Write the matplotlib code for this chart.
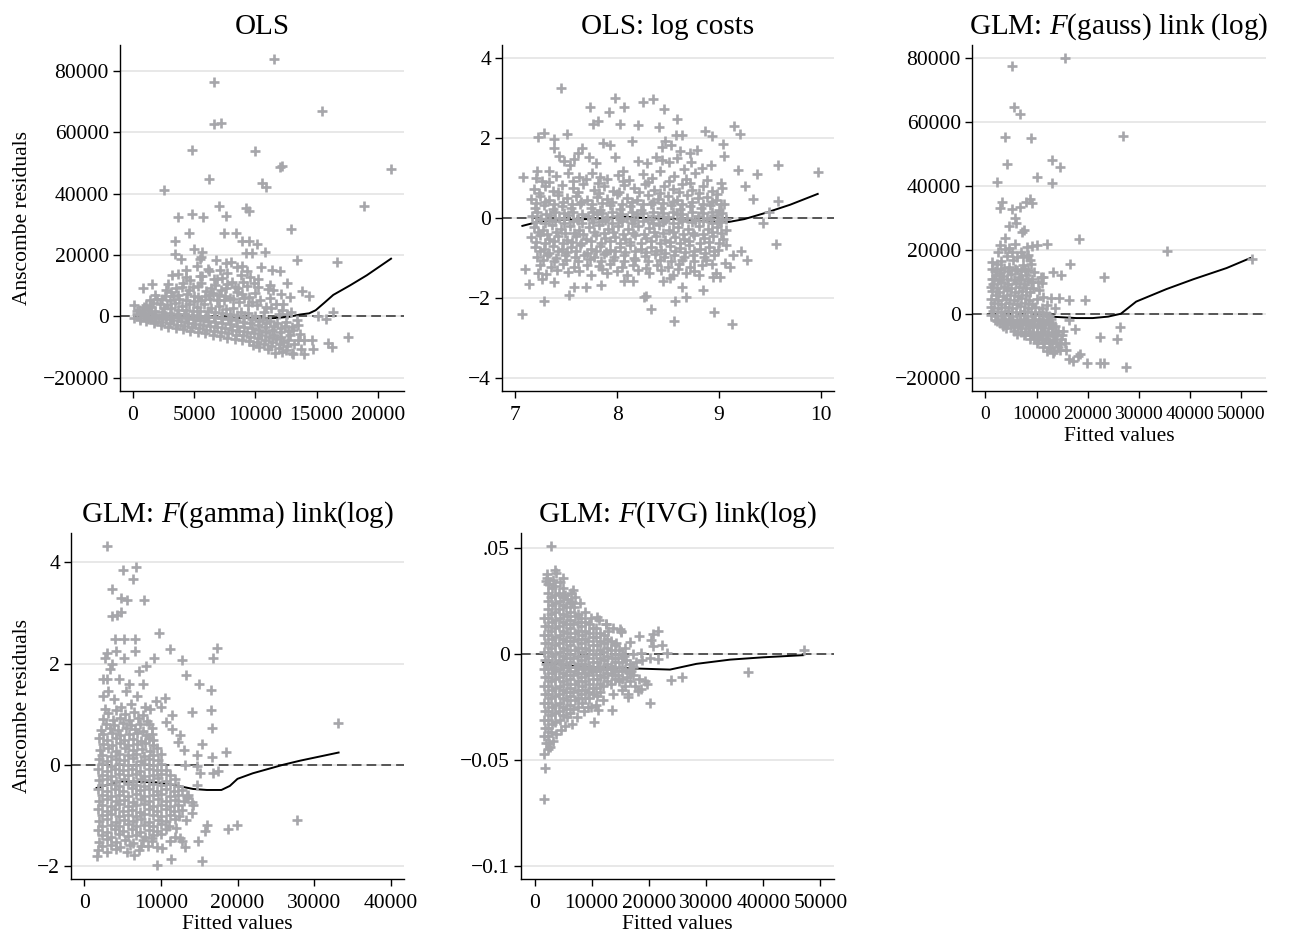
import numpy as np
import matplotlib.pyplot as plt

plt.rcParams['font.family'] = 'Liberation Serif'
plt.rcParams['mathtext.fontset'] = 'custom'
plt.rcParams['mathtext.rm'] = 'Liberation Serif'
plt.rcParams['mathtext.it'] = 'Liberation Serif:italic'

GREY = '#a6a6aa'

# ---- OLS: residual points (fitted, residual)
ols_pts = [
    (11500, 84000), (6630, 76200), (6630, 62600), (7230, 63000), (15470, 66900), (4860, 54100),
    (9960, 53800), (12000, 48700), (12150, 49000), (21100, 48100), (6190, 44700), (10560, 43500),
    (10860, 42200), (2510, 41100), (18880, 36000), (7010, 36000), (9220, 35400), (9500, 34200),
    (3680, 32300), (4830, 33400), (5730, 32300), (7640, 32600), (12900, 28600), (4580, 27200),
    (7420, 27200), (8400, 27300), (3460, 24600), (8920, 24600), (9500, 24600), (10150, 23500),
    (4990, 21900), (5670, 21000), (3460, 20400), (3960, 18800), (5460, 18800), (5590, 19400),
    (9220, 20800), (9740, 20800), (10780, 21000), (13420, 18500), (16700, 17700), (7640, 17500),
    (8540, 16100), (8920, 16400), (10500, 16100), (11400, 15000), (12000, 14800), (4310, 15000),
    (6190, 14800), (3190, 13400), (3680, 13900), (5650, 13000), (10230, 12300), (12550, 10900),
    (11190, 10300), (1560, 10500), (820, 9400), (4010, 9600), (13780, 8200), (14380, 6600),
    (12820, 6300), (11460, 8500), (12280, 4100), (16370, 1400), (15140, 0), (15770, -800),
    (17540, -6700), (15960, -8700), (16230, -10000), (14730, -10500), (13970, -12200), (13100, -12200),
    (14600, -7800), (13640, -5700), (13500, -7800), (13970, -7800), (13450, -2900), (12960, -3500),
    (100, 3600), (300, 1800),
    (100, -600), (600, -1200), (1100, -1600), (1700, -2200), (2300, -2700), (2900, -3300),
    (3500, -3700), (4100, -4200), (4700, -4800), (5300, -5200), (5900, -5500), (6500, -6000),
    (7100, -6400), (7700, -6900), (8300, -7300), (8900, -7700), (9500, -8100), (10100, -8500),
    (10700, -9100), (11300, -9600), (11900, -10200), (12500, -11000), (13000, -11800),
    (300, 800), (900, 300), (1500, -200), (2100, -600), (2700, -900), (3300, -1300), (3900, -1600),
    (4500, -2000), (5100, -2400), (5700, -2700), (6300, -3100), (6900, -3500), (7500, -3900),
    (8100, -4300), (8700, -4700), (9300, -5000), (9900, -5500), (10500, -6200), (11100, -6800),
    (11700, -7500), (12300, -8300),
    (500, 2200), (1200, 2000), (1800, 1600), (2400, 1500), (3000, 1200), (3600, 900), (4200, 700),
    (4800, 400), (5400, 200), (6000, 0), (6600, -300), (7200, -500), (7800, -900), (8400, -1300),
    (9000, -1700), (9600, -2200), (10200, -2900), (10800, -3600), (11400, -4500), (12000, -5200),
    (2200, 4200), (2800, 3800), (3400, 4500), (4000, 3300), (4600, 3900), (5200, 3100), (5800, 4200),
    (6400, 2800), (7000, 3500), (7600, 2500), (8200, 2800), (8800, 1500), (9400, 1000), (10000, 200),
    (10600, -800), (11200, -1500), (11800, -2200), (12400, -3000),
    (1400, 5200), (2600, 6500), (3100, 8000), (3800, 5800), (4400, 7200), (4900, 9500), (5300, 6200),
    (5600, 11000), (6000, 8300), (6300, 5600), (6700, 10200), (7000, 7000), (7300, 12500), (7600, 9100),
    (7900, 5900), (8100, 11300), (8500, 7800), (8800, 13500), (9100, 6100), (9300, 9800), (9700, 4800),
    (10000, 7500), (10400, 5200), (10900, 3200), (11200, 6000), (11700, 4200), (12200, 2000),
    (12600, 800), (4100, 10800), (3300, 6500), (2000, 5600), (5000, 4900), (5900, 6800), (6900, 12300),
    (7700, 14000), (8300, 9700), (9000, 11200), (9600, 12700), (6500, 7500), (4700, 11700), (3500, 9100),
    (7400, 5200), (8700, 4600), (10200, 9700), (11000, 9000), (12100, 7200), (1100, 3800), (1800, 7100),
    (2900, 10500), (5500, 13000), (6100, 15600), (7100, 15000), (8000, 17800), (9300, 14800),
    (5200, 16400), (6800, 18500), (4300, 12800), (12900, 1500), (13400, -1200), (12800, -6000),
    (11600, -12000), (12200, -11700), (13200, -9000), (13700, -10500), (11000, -10600), (10300, -10000),
    (9800, -9400),
]
ols_fill = [
    (600, -400), (1200, -900), (1800, -1400), (2400, -1800), (3000, -2300), (3600, -2700), (4200, -3100),
    (4800, -3600), (5400, -3900), (6000, -4300), (6600, -4700), (7200, -5000), (7800, -5400),
    (8400, -5900), (9000, -6200), (9600, -6700), (10200, -7100), (10800, -7700), (11400, -8300),
    (12000, -9000), (12600, -9800),
    (700, 1400), (1300, 1000), (1900, 600), (2500, 400), (3100, 100), (3700, -300), (4300, -600),
    (4900, -1000), (5500, -1200), (6100, -1500), (6700, -1800), (7300, -2200), (7900, -2600),
    (8500, -3000), (9100, -3300), (9700, -3800), (10300, -4500), (10900, -5100), (11500, -5900),
    (12100, -6700), (12700, -7600),
    (900, 3100), (1500, 3000), (2500, 2700), (3100, 2600), (3700, 2200), (4300, 2100), (4900, 1900),
    (5500, 1700), (6100, 1600), (6700, 1300), (7300, 1100), (7900, 700), (8500, 300), (9100, -100),
    (9700, -700), (10300, -1400), (10900, -2200), (11500, -3000), (12100, -3800), (12700, -4600),
    (1600, 4300), (2400, 5600), (3000, 5200), (3700, 7100), (4300, 5400), (5000, 6600), (5600, 5200),
    (6200, 7100), (6900, 5200), (7500, 6800), (8200, 5600), (8900, 7400), (9500, 6300), (10100, 3800),
    (10700, 1500), (11300, 2800), (2700, 8700), (4600, 8600), (6400, 9400), (7700, 10700), (8600, 9200),
    (9900, 10800), (5300, 9900), (6600, 12100), (7200, 8500), (9400, 3800), (11900, 900), (12500, -1800),
    (13100, -4500),
    (1000, 100), (1700, -100), (2400, 0), (3100, -200), (3800, -100), (4500, -300), (5200, -200),
    (5900, -400), (6600, -300), (7300, -500), (8000, -400),
]
ols_fit_x = [100, 3000, 6000, 8600, 9800, 10900, 11800, 12800, 13640, 14400, 14930, 15600, 16370,
             17740, 19100, 21090]
ols_fit_y = [200, 0, -200, -500, -600, -700, -500, -100, 600, 1000, 2000, 4300, 7000, 10100, 13370, 18800]

# ---- OLS on log costs
logc_pts = [
    (7.445, 3.24), (7.98, 2.99), (8.25, 2.89), (8.35, 2.97), (7.73, 2.77), (8.07, 2.77), (8.46, 2.72),
    (7.92, 2.64), (8.59, 2.48), (7.76, 2.35), (7.81, 2.43), (8.21, 2.33), (8.03, 2.35), (8.41, 2.27),
    (9.15, 2.31), (9.21, 2.10), (7.28, 2.13), (7.22, 2.02), (7.38, 1.98), (7.51, 2.10), (8.86, 2.18),
    (8.93, 2.05), (8.58, 2.08), (8.64, 2.08), (9.04, 1.85), (9.05, 1.56), (7.08, 1.02), (7.20, 0.99),
    (9.58, 1.33), (9.97, 1.16), (9.37, 1.09), (9.19, 1.20), (9.26, 0.81), (9.33, 0.48), (9.58, 0.43),
    (9.49, 0.14), (9.43, -0.12), (9.56, -0.66), (9.28, -1.05), (9.22, -0.82), (9.14, -0.94),
    (9.06, -1.13), (9.11, -1.22), (7.10, -1.28), (7.14, -1.66), (7.22, -1.38), (7.26, -1.53),
    (7.28, -2.07), (7.07, -2.41), (7.38, -1.60), (7.53, -1.93), (7.58, -1.72), (7.69, -1.72),
    (7.84, -1.69), (8.26, -1.99), (8.28, -1.95), (8.33, -2.28), (8.57, -2.09), (8.56, -2.59),
    (8.68, -1.97), (8.64, -1.72), (8.84, -1.80), (8.95, -2.36), (9.13, -2.65), (8.94, -1.47),
    (9.01, -1.47), (8.07, -1.58), (8.16, -1.59), (8.45, -1.58), (8.52, -1.51),
    (7.38, 1.76), (7.62, 1.62), (7.66, 1.75), (7.86, 1.88), (7.93, 1.83), (8.15, 1.92), (8.44, 1.78),
    (8.47, 1.92), (8.53, 1.82), (8.62, 1.68), (8.72, 1.62), (8.78, 1.70), (7.43, 1.55),
    (7.21, 1.18), (7.33, 1.17), (7.48, 1.43), (7.54, 1.33), (7.58, 1.47), (7.72, 1.52), (7.79, 1.38),
    (7.98, 1.52), (8.06, 1.18), (8.21, 1.43), (8.29, 1.38), (8.38, 1.53), (8.44, 1.45), (8.51, 1.39),
    (8.59, 1.51), (8.66, 1.22), (8.73, 1.40), (8.83, 1.25), (8.92, 1.33), (7.83, 1.02), (7.69, 0.98),
    (7.26, 0.93), (7.40, 1.05), (7.52, 1.12), (7.63, 1.02), (7.75, 1.13), (7.90, 0.98), (8.01, 1.07),
    (8.12, 0.96), (8.25, 1.10), (8.34, 1.00), (8.42, 1.18), (8.56, 1.06), (8.68, 0.97), (8.77, 1.12),
    (8.88, 0.95), (9.02, 0.88),
    (7.18, 0.72), (7.29, 0.80), (7.37, 0.68), (7.46, 0.82), (7.57, 0.74), (7.67, 0.86), (7.77, 0.70),
    (7.87, 0.80), (7.96, 0.68), (8.07, 0.83), (8.17, 0.75), (8.27, 0.84), (8.36, 0.70), (8.46, 0.80),
    (8.55, 0.73), (8.64, 0.85), (8.74, 0.71), (8.84, 0.79), (8.93, 0.67), (9.03, 0.75),
    (7.15, 0.47), (7.24, 0.55), (7.33, 0.45), (7.42, 0.58), (7.51, 0.49), (7.60, 0.56), (7.70, 0.44),
    (7.80, 0.53), (7.90, 0.47), (8.00, 0.59), (8.10, 0.50), (8.20, 0.45), (8.30, 0.57), (8.40, 0.48),
    (8.50, 0.55), (8.59, 0.46), (8.69, 0.58), (8.79, 0.49), (8.88, 0.53), (8.97, 0.44), (9.05, 0.36),
    (7.19, 0.25), (7.28, 0.33), (7.37, 0.22), (7.46, 0.31), (7.55, 0.24), (7.64, 0.35), (7.74, 0.26),
    (7.83, 0.20), (7.93, 0.32), (8.03, 0.23), (8.13, 0.30), (8.23, 0.21), (8.33, 0.34), (8.43, 0.25),
    (8.53, 0.32), (8.62, 0.22), (8.72, 0.29), (8.82, 0.24), (8.91, 0.33), (9.00, 0.21),
    (7.16, 0.05), (7.25, -0.02), (7.34, 0.08), (7.43, 0.00), (7.52, 0.07), (7.61, -0.03), (7.71, 0.04),
    (7.80, 0.10), (7.90, -0.01), (8.00, 0.06), (8.10, 0.00), (8.20, 0.09), (8.30, -0.02), (8.40, 0.05),
    (8.50, 0.02), (8.59, 0.10), (8.69, -0.01), (8.79, 0.06), (8.88, 0.00), (8.98, 0.07), (9.07, -0.03),
    (7.18, -0.22), (7.27, -0.30), (7.36, -0.19), (7.45, -0.27), (7.54, -0.21), (7.63, -0.30),
    (7.72, -0.24), (7.82, -0.18), (7.91, -0.28), (8.01, -0.21), (8.11, -0.29), (8.21, -0.20),
    (8.31, -0.26), (8.41, -0.19), (8.51, -0.30), (8.60, -0.23), (8.70, -0.28), (8.80, -0.20),
    (8.89, -0.27), (8.98, -0.22), (9.07, -0.30),
    (7.15, -0.48), (7.24, -0.44), (7.33, -0.53), (7.42, -0.46), (7.51, -0.55), (7.60, -0.45),
    (7.69, -0.52), (7.79, -0.43), (7.88, -0.50), (7.98, -0.47), (8.08, -0.54), (8.18, -0.44),
    (8.28, -0.51), (8.38, -0.46), (8.47, -0.55), (8.57, -0.47), (8.66, -0.52), (8.76, -0.43),
    (8.85, -0.50), (8.94, -0.46), (9.04, -0.53),
    (7.19, -0.72), (7.28, -0.78), (7.37, -0.70), (7.46, -0.79), (7.55, -0.73), (7.64, -0.68),
    (7.74, -0.77), (7.83, -0.71), (7.93, -0.80), (8.03, -0.73), (8.13, -0.69), (8.23, -0.78),
    (8.33, -0.72), (8.43, -0.80), (8.52, -0.70), (8.62, -0.76), (8.71, -0.69), (8.81, -0.78),
    (8.90, -0.72), (8.99, -0.80), (9.07, -0.68),
    (7.21, -0.97), (7.31, -0.93), (7.40, -1.00), (7.49, -0.92), (7.59, -0.98), (7.68, -0.94),
    (7.77, -0.99), (7.87, -0.91), (7.97, -0.97), (8.07, -0.93), (8.17, -1.00), (8.27, -0.95),
    (8.37, -0.91), (8.46, -0.98), (8.56, -0.93), (8.66, -0.99), (8.75, -0.92), (8.85, -0.97),
    (8.95, -0.94),
    (7.24, -1.18), (7.35, -1.22), (7.47, -1.16), (7.58, -1.24), (7.70, -1.17), (7.82, -1.21),
    (7.93, -1.15), (8.05, -1.23), (8.16, -1.18), (8.28, -1.25), (8.39, -1.17), (8.50, -1.22),
    (8.61, -1.16), (8.72, -1.24), (8.83, -1.19), (8.93, -1.15),
    (7.30, -1.40), (7.52, -1.36), (7.74, -1.43), (7.90, -1.38), (8.10, -1.42), (8.31, -1.37),
    (8.55, -1.44), (8.68, -1.38), (8.80, -1.42), (8.97, -1.37),
]
logc_fill = [
    (7.33, 0.90), (7.57, 0.93), (7.81, 0.88), (8.06, 0.92), (8.30, 0.89), (8.51, 0.93), (8.72, 0.88),
    (7.23, 0.62), (7.42, 0.65), (7.62, 0.64), (7.82, 0.63), (8.02, 0.64), (8.22, 0.65), (8.42, 0.63),
    (8.61, 0.64), (8.80, 0.63), (8.98, 0.60),
    (7.20, 0.37), (7.29, 0.40), (7.38, 0.35), (7.47, 0.39), (7.56, 0.36), (7.65, 0.41), (7.75, 0.35),
    (7.85, 0.38), (7.95, 0.40), (8.05, 0.36), (8.15, 0.39), (8.25, 0.35), (8.35, 0.41), (8.45, 0.37),
    (8.55, 0.39), (8.64, 0.35), (8.74, 0.40), (8.84, 0.36), (8.93, 0.39), (9.02, 0.35),
    (7.21, 0.14), (7.30, 0.11), (7.39, 0.16), (7.48, 0.12), (7.57, 0.15), (7.66, 0.11), (7.76, 0.16),
    (7.85, 0.13), (7.95, 0.15), (8.05, 0.11), (8.15, 0.16), (8.25, 0.12), (8.35, 0.15), (8.45, 0.13),
    (8.55, 0.16), (8.64, 0.11), (8.74, 0.14), (8.84, 0.12), (8.93, 0.16), (9.03, 0.13),
    (7.20, -0.10), (7.29, -0.13), (7.39, -0.08), (7.48, -0.12), (7.57, -0.09), (7.66, -0.14),
    (7.76, -0.10), (7.85, -0.07), (7.95, -0.12), (8.05, -0.09), (8.15, -0.13), (8.25, -0.08),
    (8.35, -0.12), (8.45, -0.10), (8.55, -0.14), (8.64, -0.09), (8.74, -0.11), (8.84, -0.08),
    (8.93, -0.13), (9.02, -0.10),
    (7.22, -0.36), (7.31, -0.40), (7.40, -0.35), (7.49, -0.39), (7.58, -0.37), (7.67, -0.41),
    (7.77, -0.35), (7.87, -0.39), (7.96, -0.36), (8.06, -0.40), (8.16, -0.37), (8.26, -0.41),
    (8.36, -0.35), (8.45, -0.39), (8.55, -0.36), (8.65, -0.40), (8.75, -0.37), (8.84, -0.41),
    (8.93, -0.35), (9.02, -0.39),
    (7.20, -0.60), (7.29, -0.63), (7.38, -0.58), (7.47, -0.62), (7.56, -0.60), (7.65, -0.64),
    (7.74, -0.59), (7.84, -0.62), (7.93, -0.58), (8.03, -0.63), (8.13, -0.60), (8.23, -0.64),
    (8.33, -0.59), (8.42, -0.62), (8.52, -0.60), (8.62, -0.63), (8.71, -0.58), (8.81, -0.62),
    (8.90, -0.60), (9.00, -0.64),
    (7.24, -0.84), (7.33, -0.87), (7.42, -0.82), (7.51, -0.86), (7.60, -0.83), (7.70, -0.87),
    (7.79, -0.82), (7.89, -0.85), (7.98, -0.83), (8.08, -0.86), (8.18, -0.82), (8.28, -0.86),
    (8.38, -0.84), (8.47, -0.87), (8.57, -0.82), (8.67, -0.85), (8.76, -0.83), (8.86, -0.87),
    (8.95, -0.83),
    (7.27, -1.06), (7.38, -1.09), (7.50, -1.05), (7.62, -1.08), (7.73, -1.04), (7.84, -1.09),
    (7.96, -1.06), (8.07, -1.08), (8.18, -1.05), (8.30, -1.09), (8.42, -1.06), (8.53, -1.08),
    (8.64, -1.05), (8.76, -1.09), (8.87, -1.06),
    (7.41, -1.30), (7.63, -1.32), (7.85, -1.29), (8.00, -1.32), (8.21, -1.30), (8.43, -1.31),
    (8.60, -1.29), (8.76, -1.32),
    (7.24, -0.04), (7.33, -0.06), (7.48, -0.03), (7.62, -0.05), (7.75, -0.02), (7.88, -0.06),
    (8.03, -0.03), (8.17, -0.05), (8.33, -0.04), (8.47, -0.06), (8.62, -0.03), (8.77, -0.05),
    (8.91, -0.04), (9.00, -0.07),
]
logc_fit_x = [7.07, 7.25, 7.5, 7.8, 8.05, 8.35, 8.65, 8.9, 9.1, 9.25, 9.45, 9.7, 9.97]
logc_fit_y = [-0.2, -0.08, -0.05, -0.02, 0.03, -0.01, -0.03, -0.09, -0.1, -0.03, 0.12, 0.33, 0.6]

# ---- GLM gaussian family, log link
gauss_pts = [
    (15540, 80000), (5220, 77600), (5550, 64800), (6850, 62500), (3790, 55200), (8940, 54900),
    (26830, 55700), (4240, 46800), (12990, 48100), (14560, 46000), (10120, 42900), (13120, 40800),
    (2280, 41150), (2810, 33000), (3330, 34800), (5220, 32900), (6720, 33500), (8030, 35100),
    (8680, 36000), (9140, 34600), (5870, 29900), (6070, 28300), (4570, 27300), (7510, 26250),
    (7180, 25700), (3790, 23650), (2810, 21560), (4570, 20500), (5220, 19200), (8160, 21000),
    (9140, 21250), (10120, 21350), (12140, 21900), (18280, 23300), (35570, 19500), (52220, 17200),
    (8160, 17900), (8680, 16900), (1310, 16150), (16510, 15500), (13250, 13000), (14880, 12000),
    (10970, 11500), (11160, 9600), (23170, 11500), (12920, 4900), (14360, 4900), (16320, 4400),
    (19450, 4400), (13580, 1800), (16320, -2100), (17490, -4800), (26300, -4000), (15210, -5500),
    (22390, -7400), (25780, -7900), (15670, -9000), (18600, -12500), (16320, -14200), (17170, -14700),
    (19970, -15400), (22390, -15400), (23240, -15400), (27420, -16500), (18150, -13300),
    (14560, -11250), (15860, -11250), (13250, -12300),
    (2000, 12200), (3500, 11800), (5000, 12400), (6500, 11600), (8000, 12100),
    (1500, 9300), (3000, 9800), (4500, 9200), (6000, 9700), (7500, 9400), (9000, 9900),
    (1200, 7200), (2700, 6800), (4200, 7300), (5700, 6900), (7200, 7100), (8700, 6700),
    (1100, 4700), (2500, 4300), (4000, 4600), (5500, 4400), (7000, 4800), (8500, 4200), (10000, 4500),
    (1000, 2100), (2400, 1800), (3800, 2200), (5300, 1900), (6800, 2300), (8300, 1700), (9800, 2000),
    (11000, 1800),
    (1000, -300), (2300, -700), (3700, -400), (5200, -600), (6700, -300), (8200, -700), (9700, -500),
    (11200, -400), (12500, -800),
    (2800, -2800), (4200, -3200), (5700, -2900), (7200, -3100), (8700, -2800), (10200, -3300),
    (11700, -2900), (13000, -3200),
    (5500, -5300), (7000, -5700), (8500, -5400), (10000, -5600), (11500, -5300), (13000, -5800),
    (14200, -5500),
    (8800, -7800), (10300, -8200), (11800, -7900), (13300, -8300), (14800, -8000),
    (11200, -10300), (12700, -10700), (14200, -10400),
    (1800, -1800), (3200, -1500), (4600, -1700), (6100, -1900), (7600, -1600), (9100, -1900),
    (10500, -1700), (12000, -2000),
    (1700, 3300), (3100, 3000), (4700, 3400), (6200, 3100), (7700, 3300), (9200, 3000),
    (2000, 5900), (3400, 5700), (4900, 5900), (6400, 5600), (7900, 5800),
    (4000, -4300), (5500, -4200), (7000, -4400), (8500, -4300), (10000, -4100), (11500, -4400),
    (13000, -4500),
    (7500, -6800), (9000, -6600), (10500, -6900), (12000, -6700), (13500, -6900),
    (10000, -9200), (11500, -9300), (13000, -9100), (14500, -9500),
    (2200, 15500), (3600, 14200), (5400, 16800), (6200, 13700), (7300, 15300), (8400, 18400),
    (9600, 13200), (4300, 18000), (6900, 19300), (3100, 16500), (5800, 21800), (9200, 10900),
    (10500, 7300), (11200, 5100), (12000, 2600), (12900, -1500), (1600, 11000), (1300, 14000),
    (2500, 19200), (4700, 14600), (7800, 13900), (8900, 15700), (3900, 20400), (6100, 17600),
    (7400, 18100), (2900, 12900), (10200, 10000), (11300, 11400),
]
gauss_fill = [
    (1300, 10800), (2700, 10600), (4200, 10900), (5600, 10500), (7000, 10800), (8400, 10400),
    (1000, 8300), (2200, 8100), (3600, 8400), (5100, 8000), (6600, 8300), (8000, 8100), (9400, 8000),
    (1500, 800), (3000, 700), (4500, 900), (6000, 600), (7500, 800), (9000, 700), (10500, 500),
    (11800, 300),
    (3500, -3700), (5000, -3600), (6400, -3800), (7900, -3600), (9400, -3700), (10900, -3800),
    (12400, -3600), (13700, -3900),
    (6200, -6200), (7800, -6100), (9300, -6300), (10800, -6100), (12300, -6300), (13800, -6200),
    (14900, -6500),
    (2200, -2400), (3900, -2300), (5300, -2400), (6800, -2200), (8200, -2400), (9600, -2300),
    (11100, -2400), (12500, -2500),
    (1800, 13300), (3000, 13900), (4500, 13400), (5700, 14100), (7000, 13300), (8300, 13600),
    (9500, -7500), (11000, -7600), (12500, -8800), (13900, -8900), (12000, -11500), (13500, -11600),
]
gauss_fit_x = [9300, 13900, 17800, 21000, 24000, 26500, 29500, 35400, 40700, 47200, 51800]
gauss_fit_y = [-300, -1000, -1350, -1350, -900, 0, 3800, 7700, 10800, 14300, 17400]

# ---- GLM gamma family, log link
gamma_pts = [
    (3000, 4.32), (6745, 3.91), (5000, 3.84), (6310, 3.67), (3655, 3.48), (4790, 3.30), (5530, 3.26),
    (7790, 3.25), (4310, 2.95), (3655, 2.93), (4790, 3.01), (9790, 2.60), (4000, 2.49), (5180, 2.49),
    (6610, 2.49), (11180, 2.29), (17360, 2.31), (12710, 2.06), (16840, 2.10), (13230, 1.77),
    (15010, 1.60), (16490, 1.47), (10530, 1.32), (16490, 1.09), (14010, 1.04), (11490, 0.99),
    (16710, 0.73), (33160, 0.82), (12490, 0.59), (15320, 0.40), (18490, 0.26), (13140, 0.00),
    (14660, 0.20), (16620, 0.16), (17490, -0.13), (16750, -0.16), (15100, -0.16), (14660, -0.03),
    (14660, -0.40), (14010, -0.73), (13360, -0.66), (15970, -1.19), (15750, -1.32), (18800, -1.27),
    (19970, -1.20), (27720, -1.09), (14880, -1.50), (9440, -1.63), (11270, -1.86), (9440, -1.99),
    (15400, -1.91), (6530, -1.79), (1700, -1.81), (13140, -1.62), (12710, -1.50), (11840, -1.42),
    (8790, -1.45),
    (1800, -1.68), (2900, -1.72), (4100, -1.66), (5600, -1.73), (7200, -1.69),
    (1900, -1.52), (3000, -1.47), (4200, -1.53), (5300, -1.49), (6400, -1.54), (7600, -1.48),
    (8800, -1.51),
    (1800, -1.29), (2900, -1.33), (4000, -1.27), (5100, -1.32), (6200, -1.28), (7300, -1.34),
    (8400, -1.29), (9500, -1.31), (10600, -1.27),
    (1900, -1.12), (3000, -1.08), (4100, -1.13), (5200, -1.09), (6300, -1.11), (7400, -1.07),
    (8500, -1.13), (9600, -1.09), (10700, -1.12), (11900, -1.08),
    (1800, -0.88), (2900, -0.92), (4000, -0.87), (5100, -0.91), (6200, -0.89), (7300, -0.93),
    (8400, -0.88), (9500, -0.92), (10600, -0.87), (11700, -0.91), (12800, -0.89),
    (1900, -0.71), (3000, -0.68), (4100, -0.72), (5200, -0.69), (6300, -0.73), (7400, -0.68),
    (8500, -0.71), (9600, -0.67), (10700, -0.72), (11900, -0.69), (13000, -0.71),
    (1800, -0.49), (2900, -0.53), (4000, -0.48), (5100, -0.52), (6200, -0.47), (7300, -0.51),
    (8400, -0.49), (9500, -0.53), (10600, -0.48), (11700, -0.52), (12800, -0.50),
    (1900, -0.31), (3000, -0.28), (4100, -0.32), (5200, -0.29), (6300, -0.33), (7400, -0.28),
    (8500, -0.31), (9600, -0.27), (10700, -0.32), (11900, -0.29),
    (1800, -0.09), (2900, -0.12), (4000, -0.08), (5100, -0.11), (6200, -0.09), (7300, -0.13),
    (8400, -0.08), (9500, -0.11), (10600, -0.10),
    (1900, 0.11), (3000, 0.08), (4100, 0.12), (5200, 0.09), (6300, 0.13), (7400, 0.08), (8500, 0.11),
    (9600, 0.09),
    (2000, 0.29), (3100, 0.33), (4200, 0.28), (5300, 0.32), (6400, 0.29), (7500, 0.31), (8600, 0.27),
    (9500, 0.32),
    (1900, 0.52), (3000, 0.48), (4100, 0.53), (5200, 0.49), (6300, 0.51), (7400, 0.47), (8500, 0.52),
    (9000, 0.49),
    (2200, 0.69), (3300, 0.72), (4400, 0.68), (5500, 0.73), (6600, 0.70), (7700, 0.67), (8800, 0.72),
    (2500, 0.91), (3700, 0.88), (4600, 0.93), (5800, 0.89), (7000, 0.92), (8200, 0.87),
    (2400, 1.35), (3100, 1.45), (3300, 1.90), (2700, 2.10), (2900, 2.20), (3900, 1.30), (4500, 1.70),
    (5200, 2.10), (5800, 1.60), (6100, 1.20), (6600, 2.25), (7100, 1.85), (7600, 1.60), (8100, 1.95),
    (8600, 1.10), (9100, 2.10), (3600, 2.00), (4200, 2.25), (5500, 1.45), (6900, 1.35), (7900, 1.15),
    (3000, 1.70), (4800, 1.15), (2500, 1.70), (9400, 1.25), (10000, 1.15), (10700, 0.85),
    (11500, 0.70), (12200, 0.45), (13000, 0.30),
    (12000, -1.25), (13300, -1.10), (14200, -0.80), (13500, -0.60), (12500, -1.45), (11200, -1.50),
    (10200, -1.65), (14000, -0.95),
]
gamma_fill = [
    (2350, -1.61), (3500, -1.58), (4650, -1.62), (6000, -1.59), (7400, -1.61), (8300, -1.60),
    (2350, -1.40), (3450, -1.42), (4550, -1.38), (5700, -1.41), (6800, -1.39), (7900, -1.42),
    (9000, -1.40), (10000, -1.38),
    (2350, -1.21), (3450, -1.19), (4550, -1.22), (5650, -1.18), (6750, -1.21), (7850, -1.19),
    (8950, -1.22), (10050, -1.18), (11100, -1.21),
    (2350, -1.00), (3450, -0.98), (4550, -1.01), (5650, -0.99), (6750, -1.02), (7850, -0.98),
    (8950, -1.00), (10050, -1.02), (11150, -0.99), (12300, -1.01),
    (2350, -0.79), (3450, -0.81), (4550, -0.78), (5650, -0.82), (6750, -0.80), (7850, -0.78),
    (8950, -0.81), (10050, -0.79), (11150, -0.82), (12250, -0.80),
    (2350, -0.60), (3450, -0.62), (4550, -0.59), (5650, -0.61), (6750, -0.58), (7850, -0.62),
    (8950, -0.60), (10050, -0.58), (11150, -0.61), (12250, -0.60), (13400, -0.62),
    (2350, -0.41), (3450, -0.38), (4550, -0.42), (5650, -0.39), (6750, -0.40), (7850, -0.42),
    (8950, -0.38), (10050, -0.41), (11150, -0.39), (12250, -0.42),
    (2350, -0.20), (3450, -0.22), (4550, -0.19), (5650, -0.21), (6750, -0.18), (7850, -0.22),
    (8950, -0.20), (10050, -0.19), (11150, -0.21),
    (2350, 0.01), (3450, -0.02), (4550, 0.02), (5650, -0.01), (6750, 0.00), (7850, 0.02),
    (8950, -0.01), (10050, 0.01),
    (2350, 0.20), (3450, 0.18), (4550, 0.22), (5650, 0.19), (6750, 0.21), (7850, 0.18), (8950, 0.20),
    (10000, 0.22),
    (2400, 0.41), (3550, 0.38), (4650, 0.42), (5750, 0.39), (6850, 0.40), (7950, 0.42), (9000, 0.38),
    (2450, 0.60), (3600, 0.62), (4700, 0.59), (5800, 0.61), (6900, 0.63), (8000, 0.58), (8900, 0.61),
    (2800, 0.80), (3900, 0.78), (5000, 0.82), (6100, 0.79), (7300, 0.81), (8400, 0.80),
    (3100, 1.02), (4200, 1.08), (5300, 1.00), (6500, 1.05), (7600, 0.99), (2700, 1.10),
]
gamma_fit_x = [1600, 4700, 9400, 11600, 14200, 16000, 17900, 19000, 20000, 22000, 26000, 28200, 33200]
gamma_fit_y = [-0.46, -0.33, -0.35, -0.40, -0.48, -0.50, -0.50, -0.42, -0.28, -0.17, 0.0, 0.08, 0.24]

# ---- GLM inverse gaussian family, log link
ivg_pts = [
    (2850, 0.0508), (3610, 0.0395), (1570, -0.0687), (1860, -0.0538), (1690, -0.0475), (2730, -0.0440),
    (2560, -0.0420), (47120, 0.0020), (37350, -0.0086), (25710, -0.0110), (23790, -0.0121),
    (20190, -0.0231), (10410, -0.0321), (13500, -0.0263), (11050, -0.0267), (10760, -0.0240),
    (9420, -0.0252), (16400, -0.0203), (18150, -0.0176), (18560, -0.0165), (19310, -0.0129),
    (19600, -0.0140), (21640, 0.0107), (20770, 0.0096), (20300, 0.0068), (20650, 0.0036),
    (22340, 0.0041), (23210, 0.0002), (21640, -0.0024), (20190, -0.0019), (18270, 0.0083),
    (16700, 0.0057), (15120, 0.0102), (12510, 0.0143), (10880, 0.0174), (14950, 0.0118),
    (18560, 0.0005), (18850, -0.0027), (6630, 0.0244), (6810, 0.0303), (5060, 0.0358), (2150, 0.0379),
    (2040, 0.0343),
    (1600, 0.017), (1800, 0.013), (1600, 0.009), (1800, 0.005), (1600, 0.001), (1800, -0.003),
    (1600, -0.007), (1800, -0.011), (1600, -0.015), (1800, -0.019), (1600, -0.023), (1800, -0.027),
    (1600, -0.031), (1800, -0.035), (1600, -0.039),
    (3000, 0.031), (2900, 0.027), (3100, 0.023), (2900, 0.019), (3100, 0.015), (2900, 0.011),
    (3100, 0.007), (2900, 0.003), (3100, -0.001), (2900, -0.005), (3100, -0.009), (2900, -0.013),
    (3100, -0.017), (2900, -0.021), (3100, -0.025), (2900, -0.029), (3100, -0.033), (2900, -0.037),
    (4300, 0.029), (4400, 0.025), (4200, 0.021), (4400, 0.017), (4200, 0.013), (4400, 0.009),
    (4200, 0.005), (4400, 0.001), (4200, -0.003), (4400, -0.007), (4200, -0.011), (4400, -0.015),
    (4200, -0.019), (4400, -0.023), (4200, -0.027), (4400, -0.031),
    (5600, 0.026), (5500, 0.022), (5700, 0.018), (5500, 0.014), (5700, 0.010), (5500, 0.006),
    (5700, 0.002), (5500, -0.002), (5700, -0.006), (5500, -0.010), (5700, -0.014), (5500, -0.018),
    (5700, -0.022), (5500, -0.026), (5700, -0.030),
    (6900, 0.022), (7000, 0.018), (6800, 0.014), (7000, 0.010), (6800, 0.006), (7000, 0.002),
    (6800, -0.002), (7000, -0.006), (6800, -0.010), (7000, -0.014), (6800, -0.018), (7000, -0.022),
    (6800, -0.026),
    (8200, 0.017), (8100, 0.013), (8300, 0.009), (8100, 0.005), (8300, 0.001), (8100, -0.003),
    (8300, -0.007), (8100, -0.011), (8300, -0.015), (8100, -0.019), (8300, -0.023),
    (9500, 0.014), (9600, 0.010), (9400, 0.006), (9600, 0.002), (9400, -0.002), (9600, -0.006),
    (9400, -0.010), (9600, -0.014), (9400, -0.018), (9600, -0.021),
    (10800, 0.012), (10700, 0.008), (10900, 0.004), (10700, 0.000), (10900, -0.004), (10700, -0.008),
    (10900, -0.012), (10700, -0.016), (10900, -0.020),
    (12100, 0.009), (12200, 0.005), (12000, 0.001), (12200, -0.003), (12000, -0.007), (12200, -0.011),
    (12000, -0.015),
    (13400, 0.006), (13300, 0.002), (13500, -0.002), (13300, -0.006), (13500, -0.010), (13300, -0.014),
    (14700, 0.002), (14600, -0.002), (14800, -0.006), (14600, -0.010), (14800, -0.013),
    (16000, -0.003), (15900, -0.007), (16100, -0.011), (15900, -0.015),
    (17300, -0.006), (17200, -0.010),
    (2200, 0.036), (2600, 0.033), (3300, 0.035), (3800, 0.038), (4500, 0.034), (4900, 0.031),
    (6300, 0.029), (7000, 0.027), (7900, 0.024), (5300, 0.028), (8900, 0.020), (9900, 0.017),
    (11200, 0.016), (12500, 0.014), (13800, 0.012), (15100, 0.011),
    (2000, -0.042), (2400, -0.045), (3200, -0.041), (3800, -0.038), (4600, -0.036), (5400, -0.034),
    (6600, -0.033), (7400, -0.030), (8600, -0.027), (9800, -0.025), (11900, -0.022), (13700, -0.019),
    (15300, -0.017), (16400, -0.019), (17600, -0.015), (18200, -0.012), (16800, -0.008),
    (17800, -0.004), (15600, -0.001), (14200, 0.005), (15800, 0.003), (17200, 0.000), (12900, 0.011),
]
# extra columns of the solid wedge: fitted value, then its residuals
ivg_fill_cols = [
    (2350, [0.033, 0.029, 0.025, 0.021, 0.017, 0.013, 0.009, 0.005, 0.001, -0.003, -0.007, -0.011,
            -0.015, -0.019, -0.023, -0.027, -0.031, -0.035, -0.039]),
    (3650, [0.032, 0.028, 0.024, 0.020, 0.016, 0.012, 0.008, 0.004, 0.000, -0.004, -0.008, -0.012,
            -0.016, -0.020, -0.024, -0.028, -0.032]),
    (4950, [0.027, 0.023, 0.019, 0.015, 0.011, 0.007, 0.003, -0.001, -0.005, -0.009, -0.013, -0.017,
            -0.021, -0.025, -0.029]),
    (6250, [0.024, 0.020, 0.016, 0.012, 0.008, 0.004, 0.000, -0.004, -0.008, -0.012, -0.016, -0.020,
            -0.024, -0.028]),
    (7550, [0.019, 0.015, 0.011, 0.007, 0.003, -0.001, -0.005, -0.009, -0.013, -0.017, -0.021, -0.025]),
    (8850, [0.015, 0.011, 0.007, 0.003, -0.001, -0.005, -0.009, -0.013, -0.017, -0.021]),
    (10150, [0.012, 0.008, 0.004, 0.000, -0.004, -0.008, -0.012, -0.016, -0.019]),
    (11450, [0.010, 0.006, 0.002, -0.002, -0.006, -0.010, -0.014, -0.018]),
    (12750, [0.007, 0.003, -0.001, -0.005, -0.009, -0.013]),
    (14050, [0.004, 0.000, -0.004, -0.008, -0.012]),
    (15350, [0.000, -0.004, -0.008, -0.012]),
    (16650, [-0.005, -0.009, -0.013]),
    (2000, [-0.005]), (3350, [-0.006]), (4650, [-0.005]), (5950, [-0.006]), (7250, [-0.006]),
    (8550, [-0.006]), (9850, [-0.007]), (11150, [-0.006]), (12450, [-0.007]), (13750, [-0.007]),
]
ivg_fill = [(x, y) for x, ys in ivg_fill_cols for y in ys]
ivg_fit_x = [1500, 8000, 14400, 19000, 23700, 28300, 34200, 40000, 47000]
ivg_fit_y = [-0.004, -0.006, -0.0066, -0.007, -0.0074, -0.0047, -0.0027, -0.0016, -0.0006]

W, H = 1294, 933
fig = plt.figure(figsize=(W / 100, H / 100), dpi=100)


def make_axes(left, top, right, bottom):
    return fig.add_axes([left / W, 1 - bottom / H, (right - left) / W, (bottom - top) / H])


def draw_panel(ax, pts, fit_x, fit_y, title, xlim, ylim, xticks, yticks, yticklabels=None):
    pts = np.array(pts, dtype=float)
    for t in yticks:
        ax.axhline(t, color='#e8e8e8', lw=1.4, zorder=0)
    ax.axhline(0, color='#555555', lw=1.4, dashes=(5, 2.6), zorder=1)
    ax.plot(fit_x, fit_y, color='black', lw=1.4, zorder=2)
    ax.plot(pts[:, 0], pts[:, 1], ls='none', marker='+', ms=7.5, mew=1.9, color=GREY, zorder=3)
    ax.set_xlim(*xlim)
    ax.set_ylim(*ylim)
    ax.set_xticks(xticks)
    ax.set_yticks(yticks)
    if yticklabels is not None:
        ax.set_yticklabels(yticklabels)
    for s in ['top', 'right']:
        ax.spines[s].set_visible(False)
    for s in ['left', 'bottom']:
        ax.spines[s].set_linewidth(1.0)
    ax.tick_params(direction='out', length=5, width=1, labelsize=15.5)
    ax.tick_params(axis='x', pad=6)
    ax.tick_params(axis='y', pad=3)
    ax.set_title(title, fontsize=21, pad=8)


ax1 = make_axes(120, 45, 404, 391)
draw_panel(ax1, ols_pts + ols_fill, ols_fit_x, ols_fit_y, 'OLS', (-1060, 22150), (-24300, 88400),
           [0, 5000, 10000, 15000, 20000], [-20000, 0, 20000, 40000, 60000, 80000])
ax1.set_ylabel('Anscombe residuals', fontsize=15.5)
ax1.yaxis.set_label_coords(-0.31, 0.5)

ax2 = make_axes(502, 45, 834, 391)
draw_panel(ax2, logc_pts + logc_fill, logc_fit_x, logc_fit_y, 'OLS: log costs', (6.87, 10.13),
           (-4.33, 4.325), [7, 8, 9, 10], [-4, -2, 0, 2, 4])

ax3 = make_axes(972, 45, 1266, 391)
draw_panel(ax3, gauss_pts + gauss_fill, gauss_fit_x, gauss_fit_y, 'GLM: $F$(gauss) link (log)',
           (-2620, 54900), (-24160, 84060), [0, 10000, 20000, 30000, 40000, 50000],
           [-20000, 0, 20000, 40000, 60000, 80000])
ax3.tick_params(axis='x', labelsize=14)
ax3.set_xlabel('Fitted values', fontsize=15.5, labelpad=3)

ax4 = make_axes(71, 533, 404, 879)
draw_panel(ax4, gamma_pts + gamma_fill, gamma_fit_x, gamma_fit_y, 'GLM: $F$(gamma) link(log)',
           (-1740, 41740), (-2.26, 4.58), [0, 10000, 20000, 30000, 40000], [-2, 0, 2, 4])
ax4.set_ylabel('Anscombe residuals', fontsize=15.5)
ax4.yaxis.set_label_coords(-0.117, 0.5)
ax4.set_xlabel('Fitted values', fontsize=15.5, labelpad=1)

ax5 = make_axes(521, 533, 834, 879)
draw_panel(ax5, ivg_pts + ivg_fill, ivg_fit_x, ivg_fit_y, 'GLM: $F$(IVG) link(log)', (-2370, 52370),
           (-0.1063, 0.0571), [0, 10000, 20000, 30000, 40000, 50000], [-0.1, -0.05, 0, 0.05],
           ['\u22120.1', '\u22120.05', '0', '.05'])
ax5.set_xlabel('Fitted values', fontsize=15.5, labelpad=1)

fig.savefig('out.png', dpi=100)
